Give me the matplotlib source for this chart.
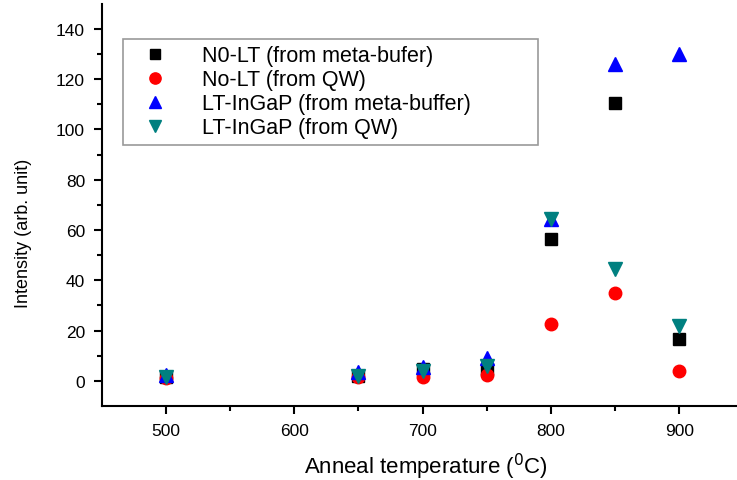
import matplotlib.pyplot as plt

plt.rcParams['font.family'] = ['Liberation Sans', 'DejaVu Sans']

# temperaturas de recozimento
temps = [500, 650, 700, 750, 800, 850, 900]

# intensidades
no_lt_meta = [1.5, 2, 4.5, 4.5, 56.5, 110.5, 16.5]
no_lt_qw = [1, 1.5, 1.5, 2.5, 22.5, 35, 4]
lt_meta = [2.5, 3.5, 5.5, 9, 64.5, 126, 130]
lt_qw = [1.5, 2, 4, 6, 64.5, 44.5, 22]

labels = ['N0-LT (from meta-bufer)', 'No-LT (from QW)',
          'LT-InGaP (from meta-buffer)', 'LT-InGaP (from QW)']

fig = plt.figure(figsize=(7.37, 4.81), dpi=100)
ax = fig.add_axes([0.138, 0.154, 0.862, 0.836])

ax.plot(temps, no_lt_meta, 's', color='black', ms=8.5, label=labels[0])
ax.plot(temps, no_lt_qw, 'o', color='red', ms=9, label=labels[1])
ax.plot(temps, lt_meta, '^', color='blue', ms=9.5, label=labels[2])
ax.plot(temps, lt_qw, 'v', color='#008080', ms=9.5, label=labels[3])

ax.set_xlim(450, 945)
ax.set_ylim(-10, 150)
ax.set_xticks([500, 600, 700, 800, 900])
ax.set_xticks([550, 650, 750, 850], minor=True)
ax.set_yticks(range(0, 141, 20))
ax.set_yticks(range(10, 141, 20), minor=True)

ax.spines['top'].set_visible(False)
ax.spines['right'].set_visible(False)
ax.spines['left'].set_linewidth(1.5)
ax.spines['bottom'].set_linewidth(1.5)
ax.tick_params(which='major', direction='out', length=6, width=1.5,
               labelsize=12.5, pad=6)
ax.tick_params(which='minor', direction='out', length=3.5, width=1.5)

# rotulos dos eixos (posicoes ajustadas a mao)
ax.set_xlabel('Anneal temperature ($^{0}$C)', fontsize=16)
ax.xaxis.set_label_coords(0.51, -0.112)
ax.set_ylabel('Intensity (arb. unit)', fontsize=13)
ax.yaxis.set_label_coords(-0.11, 0.432)

leg = ax.legend(loc='upper left', bbox_to_anchor=(0.033, 0.913, 0.654, 0.0),
                mode='expand', fontsize=15.5,
                frameon=True, fancybox=False, edgecolor='gray',
                handletextpad=1.0, borderpad=0.3, labelspacing=0.14,
                borderaxespad=0, handlelength=2.4, markerscale=0.9)
leg.get_frame().set_linewidth(1.2)

fig.savefig('out.png', dpi=100)
